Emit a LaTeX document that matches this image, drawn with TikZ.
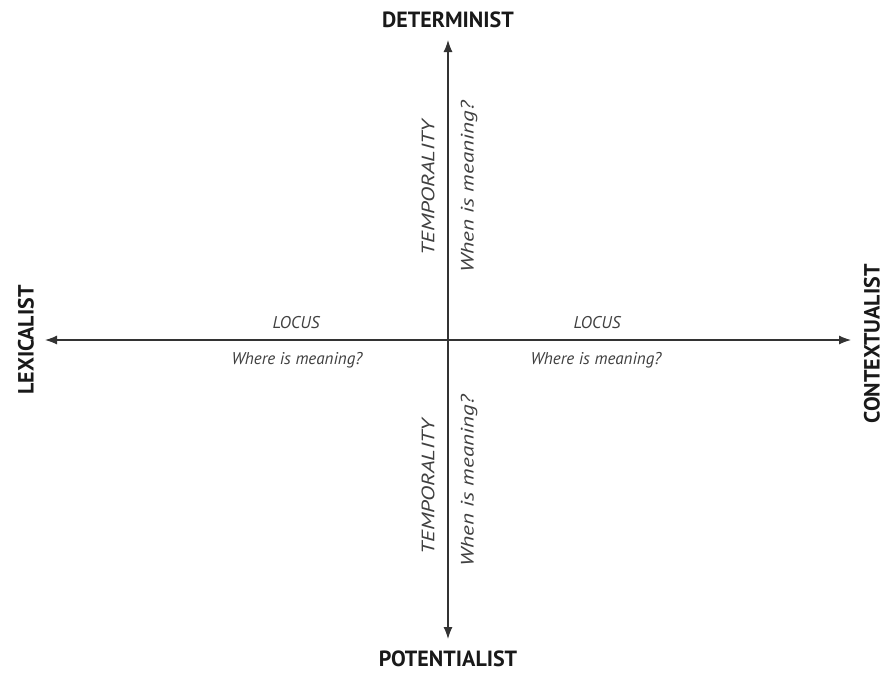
\documentclass[tikz,border=0pt]{standalone}
\usepackage{fontspec}
\setmainfont{PT Sans}
\usetikzlibrary{arrows.meta}
\begin{document}
\begin{tikzpicture}[x=1pt,y=-1pt,
  axis/.style={draw=black!80,line width=1.2pt,{Latex[length=12pt,width=9pt]}-{Latex[length=12pt,width=9pt]}},
  pole/.style={font=\bfseries\fontsize{22}{26}\selectfont,text=black!90,inner sep=0pt},
  lab/.style={font=\itshape\fontsize{17}{20}\selectfont,text=black!75,inner sep=0pt},
  vlab/.style={font=\itshape\fontsize{18}{21}\selectfont,text=black!75,inner sep=0pt,rotate=90,xscale=1.28}]
\useasboundingbox (0,0) rectangle (885,673);
\coordinate (C) at (448,340);
\coordinate (L) at (45,340);
\coordinate (R) at (851,340);
\coordinate (T) at (448,40);
\coordinate (B) at (448,639);
\draw[axis] (L) -- (R);
\draw[axis] (B) -- (T);
\node[pole] (det) at (448,20) {DETERMINIST};
\node[pole] (pot) at (448,659) {POTENTIALIST};
\node[pole,rotate=90] (lex) at (26,340) {LEXICALIST};
\node[pole,rotate=90] (con) at (872,344) {CONTEXTUALIST};
\node[lab] (locl) at (296,323) {LOCUS};
\node[lab] (locr) at (597,323) {LOCUS};
\node[lab] (wherel) at (297,360) {Where is meaning?};
\node[lab] (wherer) at (596,360) {Where is meaning?};
\node[vlab] (tempt) at (428,188) {TEMPORALITY};
\node[vlab] (whent) at (469,187) {When is meaning?};
\node[vlab] (tempb) at (428,487) {TEMPORALITY};
\node[vlab] (whenb) at (469,481) {When is meaning?};
\end{tikzpicture}
\end{document}
